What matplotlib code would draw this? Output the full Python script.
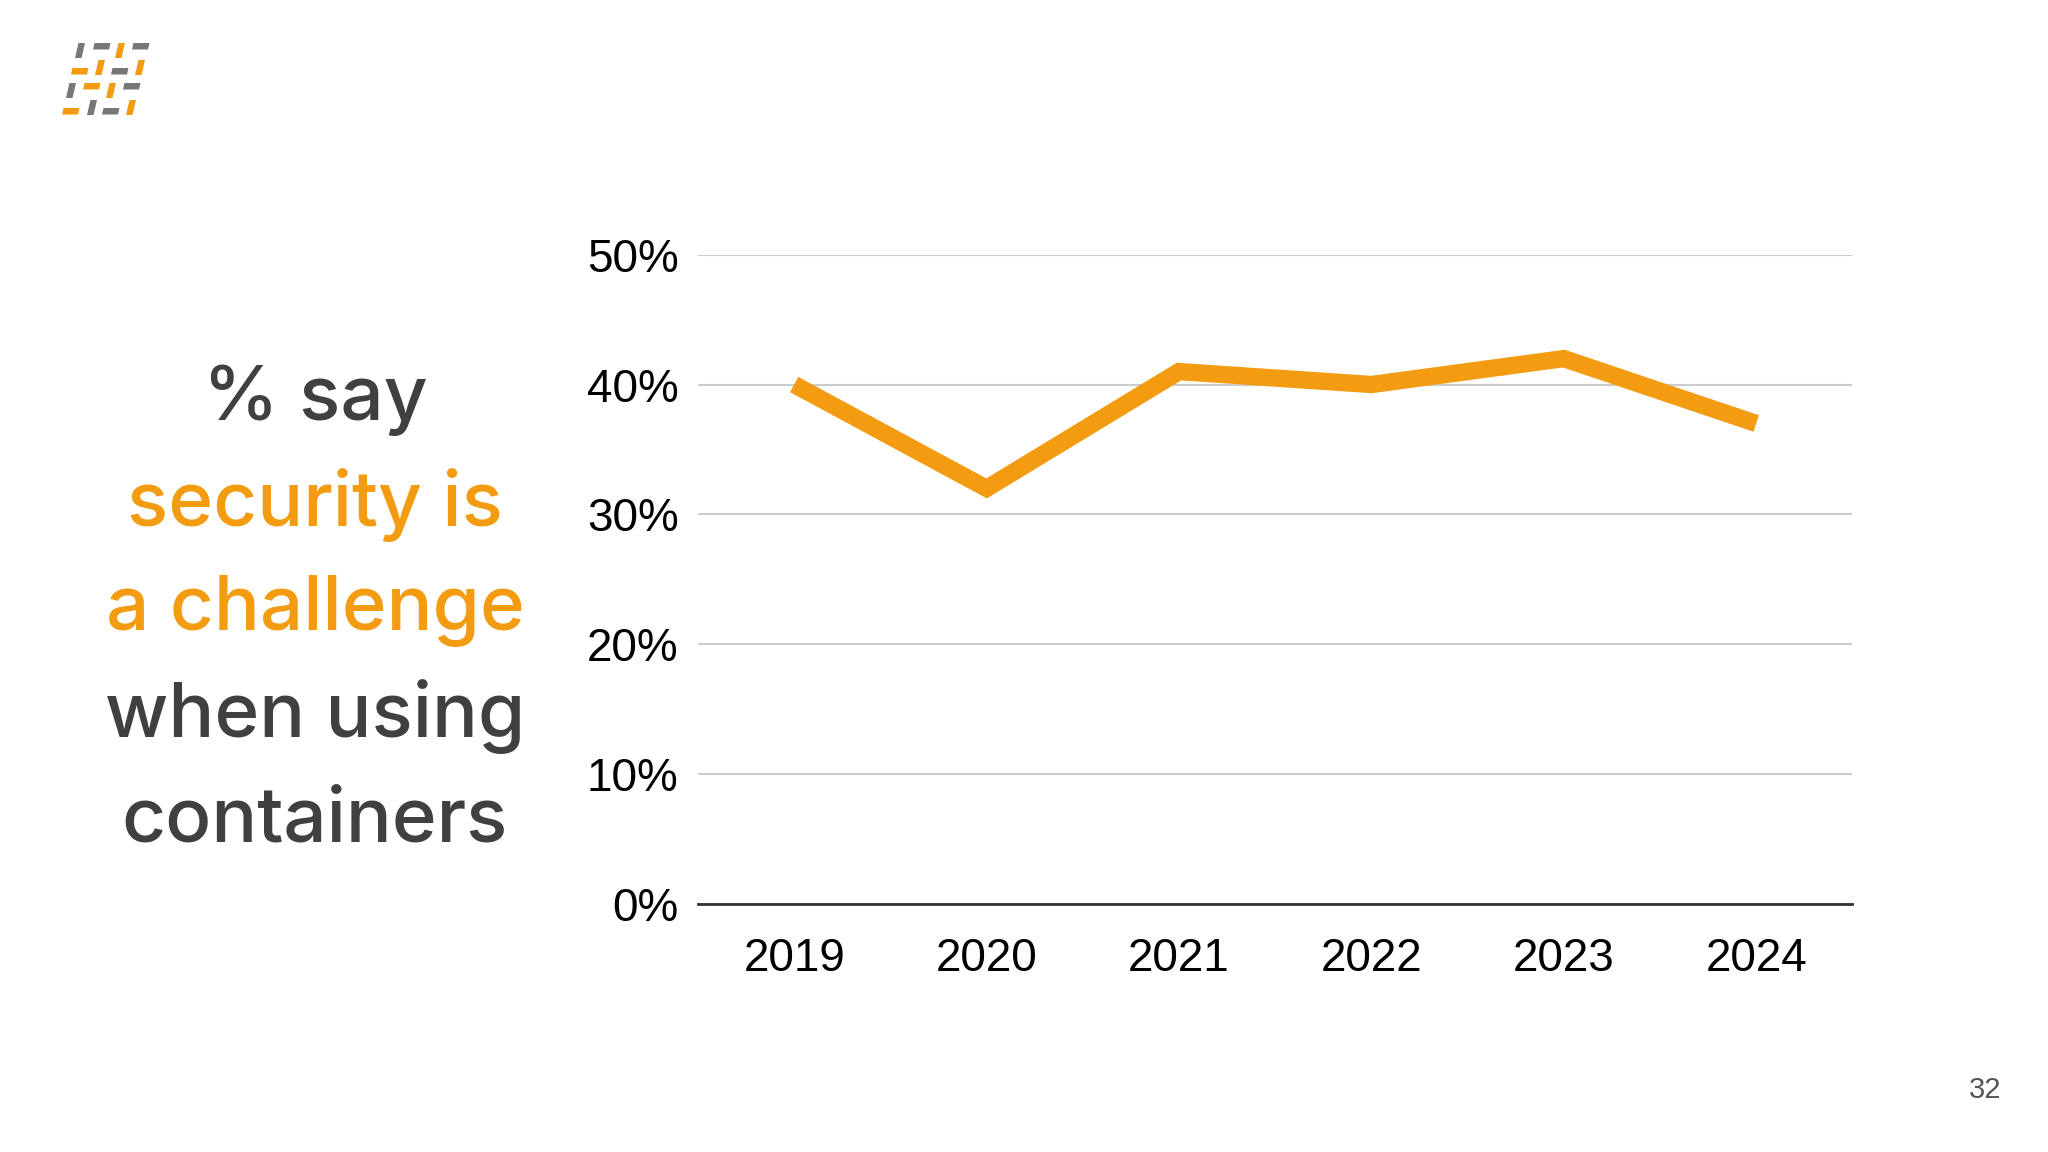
import matplotlib.pyplot as plt
from matplotlib.patches import Polygon

years = ['2019', '2020', '2021', '2022', '2023', '2024']
share = [40, 32, 41, 40, 42, 37]
yticks = [0, 10, 20, 30, 40, 50]

headline = [('% say', '#404040'), ('security is', '#F39C12'),
            ('a challenge', '#F39C12'), ('when using', '#404040'),
            ('containers', '#404040')]
page_no = '32'

ORANGE = '#F39C12'
GRAY = '#777777'

fig = plt.figure(figsize=(20.48, 11.52), dpi=100)

# background layer in pixel coords for logo + text
bg = fig.add_axes([0, 0, 1, 1])
bg.set_xlim(0, 2048)
bg.set_ylim(1152, 0)
bg.axis('off')

# logo: slanted dashes (x, y top-left, kind, colour)
logo = [(75, 43, 'v', GRAY), (93, 43, 'h', GRAY), (115, 43, 'v', ORANGE), (132, 43, 'h', GRAY),
        (71, 68, 'h', ORANGE), (95, 60, 'v', ORANGE), (111, 68, 'h', GRAY), (135, 60, 'v', ORANGE),
        (66, 83, 'v', GRAY), (83, 83, 'h', ORANGE), (106, 83, 'v', ORANGE), (123, 83, 'h', GRAY),
        (62, 108, 'h', ORANGE), (87, 100, 'v', GRAY), (102, 108, 'h', GRAY), (126, 100, 'v', ORANGE)]
for x, y, kind, c in logo:
    if kind == 'h':
        w, h, s = 16, 6.5, 1.5
    else:
        w, h, s = 6.5, 15, 3.5
    pts = [(x + s, y), (x + s + w, y), (x + w, y + h), (x, y + h)]
    bg.add_patch(Polygon(pts, closed=True, color=c, lw=0))

# headline text on the left
for i, (txt, col) in enumerate(headline):
    bg.text(315, 400 + i * 105.5, txt, color=col, fontsize=55, family='Inter',
            fontweight='medium', ha='center', va='center')

bg.text(1985, 1090, page_no, color='#555555', fontsize=21, family='Liberation Sans',
        ha='center', va='center')

# chart
ax = fig.add_axes([0.3408, 0.2154, 0.5637, 0.5635])
x = range(len(years))
ax.plot(x, share, color=ORANGE, lw=12.5, solid_capstyle='butt', solid_joinstyle='miter')
ax.set_xlim(-0.5, len(years) - 0.5)
ax.set_ylim(0, 50)
ax.set_yticks(yticks)
ax.set_yticklabels([f'{v}%' for v in yticks])
ax.set_xticks(list(x))
ax.set_xticklabels(years)
ax.grid(axis='y', color='#cccccc', lw=1.5)
ax.set_axisbelow(True)
for side in ['top', 'right', 'left']:
    ax.spines[side].set_visible(False)
ax.spines['bottom'].set_color('#333333')
ax.spines['bottom'].set_linewidth(2)
ax.tick_params(length=0, labelsize=33, colors='black')
ax.tick_params(axis='y', pad=14)
ax.tick_params(axis='x', pad=24)
for lab in ax.get_xticklabels() + ax.get_yticklabels():
    lab.set_family('Liberation Sans')

fig.savefig('out.png', dpi=100, facecolor='white')
